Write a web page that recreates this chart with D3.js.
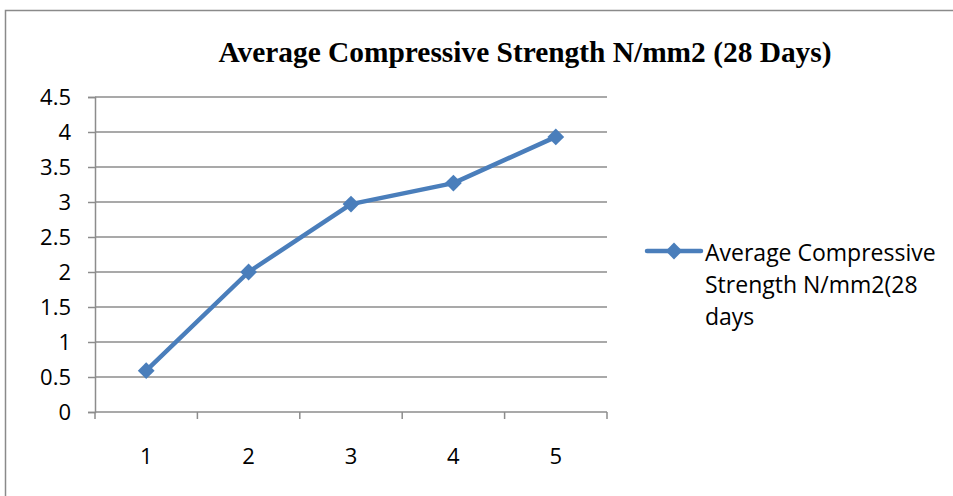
<!DOCTYPE html>
<html>
<head>
<meta charset="utf-8">
<script src="https://cdn.jsdelivr.net/npm/d3@7"></script>
<style>
  html, body { margin: 0; padding: 0; background: #fff; }
  svg { display: block; }
</style>
</head>
<body>
<svg id="chart" width="953" height="496"></svg>
<script>
// Chart data
const categories = ["1", "2", "3", "4", "5"];
const strengthValues = [0.59, 2.0, 2.97, 3.27, 3.93];
const yTickValues = [0, 0.5, 1, 1.5, 2, 2.5, 3, 3.5, 4, 4.5];
const titleText = "Average Compressive Strength N/mm2 (28 Days)";
const legendLines = ["Average Compressive", "Strength N/mm2(28", "days"];

const svg = d3.select("#chart");
const W = 953, H = 496;
const lineColor = "#4a7ebb";
const gridColor = "#8c8c8c";
const labelFont = "'Open Sans', Lato, sans-serif";
const tickSize = 22;
const legendSize = 23;

// Outer chart frame
svg.append("rect")
  .attr("x", 5.5).attr("y", 10.5)
  .attr("width", W).attr("height", H)
  .attr("fill", "#fff")
  .attr("stroke", "#8a8a8a").attr("stroke-width", 1.5);

// Title
svg.append("text")
  .attr("x", 525).attr("y", 62)
  .attr("text-anchor", "middle")
  .attr("font-family", "'Liberation Serif', 'Times New Roman', serif")
  .attr("font-weight", "bold")
  .attr("font-size", 29.4)
  .attr("fill", "#000")
  .text(titleText);

// Plot area
const plot = { left: 95, right: 607, top: 97, bottom: 412 };

const x = d3.scaleBand()
  .domain(categories)
  .range([plot.left, plot.right]);

const y = d3.scaleLinear()
  .domain([0, 4.5])
  .range([plot.bottom, plot.top]);

// Horizontal gridlines
svg.append("g")
  .selectAll("line")
  .data(yTickValues.filter(d => d > 0))
  .join("line")
  .attr("x1", plot.left).attr("x2", plot.right)
  .attr("y1", d => y(d)).attr("y2", d => y(d))
  .attr("stroke", gridColor).attr("stroke-width", 1.5);

// Y axis
const yAxis = svg.append("g")
  .attr("transform", `translate(${plot.left},0)`)
  .call(d3.axisLeft(y).tickValues(yTickValues).tickSize(7).tickPadding(17)
    .tickFormat(d3.format("~g")));
yAxis.select(".domain").attr("stroke", gridColor).attr("stroke-width", 1.5);
yAxis.selectAll(".tick line").attr("stroke", gridColor).attr("stroke-width", 1.5);
yAxis.selectAll(".tick text")
  .attr("font-family", labelFont).attr("font-size", tickSize).attr("fill", "#000");

// X axis with tick marks at category boundaries
const xAxisG = svg.append("g")
  .attr("transform", `translate(0,${plot.bottom})`);
xAxisG.append("line")
  .attr("x1", plot.left).attr("x2", plot.right)
  .attr("y1", 0).attr("y2", 0)
  .attr("stroke", gridColor).attr("stroke-width", 1.5);
const boundaries = categories.map(c => x(c)).concat([x(categories[categories.length - 1]) + x.bandwidth()]);
xAxisG.selectAll("line.tk")
  .data(boundaries)
  .join("line")
  .attr("class", "tk")
  .attr("x1", d => d).attr("x2", d => d)
  .attr("y1", 0).attr("y2", 7)
  .attr("stroke", gridColor).attr("stroke-width", 1.5);
xAxisG.selectAll("text")
  .data(categories)
  .join("text")
  .attr("x", d => x(d) + x.bandwidth() / 2)
  .attr("y", 52)
  .attr("text-anchor", "middle")
  .attr("font-family", labelFont).attr("font-size", tickSize).attr("fill", "#000")
  .text(d => d);

// Series line
const pts = categories.map((c, i) => [x(c) + x.bandwidth() / 2, y(strengthValues[i])]);
svg.append("path")
  .datum(pts)
  .attr("d", d3.line())
  .attr("fill", "none")
  .attr("stroke", lineColor)
  .attr("stroke-width", 4.5)
  .attr("stroke-linejoin", "round");

// Diamond markers
const diamond = d3.symbol().type(d3.symbolDiamond2).size(180);
svg.append("g")
  .selectAll("path")
  .data(pts)
  .join("path")
  .attr("transform", d => `translate(${d[0]},${d[1]})`)
  .attr("d", diamond)
  .attr("fill", lineColor);

// Legend
const legend = svg.append("g");
legend.append("line")
  .attr("x1", 647).attr("x2", 701)
  .attr("y1", 251).attr("y2", 251)
  .attr("stroke", lineColor).attr("stroke-width", 4.5)
  .attr("stroke-linecap", "round");
legend.append("path")
  .attr("transform", "translate(674,251)")
  .attr("d", diamond)
  .attr("fill", lineColor);
legend.selectAll("text")
  .data(legendLines)
  .join("text")
  .attr("x", 705)
  .attr("y", (d, i) => 261 + i * 32)
  .attr("font-family", labelFont).attr("font-size", legendSize).attr("fill", "#000")
  .text(d => d);
</script>
</body>
</html>
